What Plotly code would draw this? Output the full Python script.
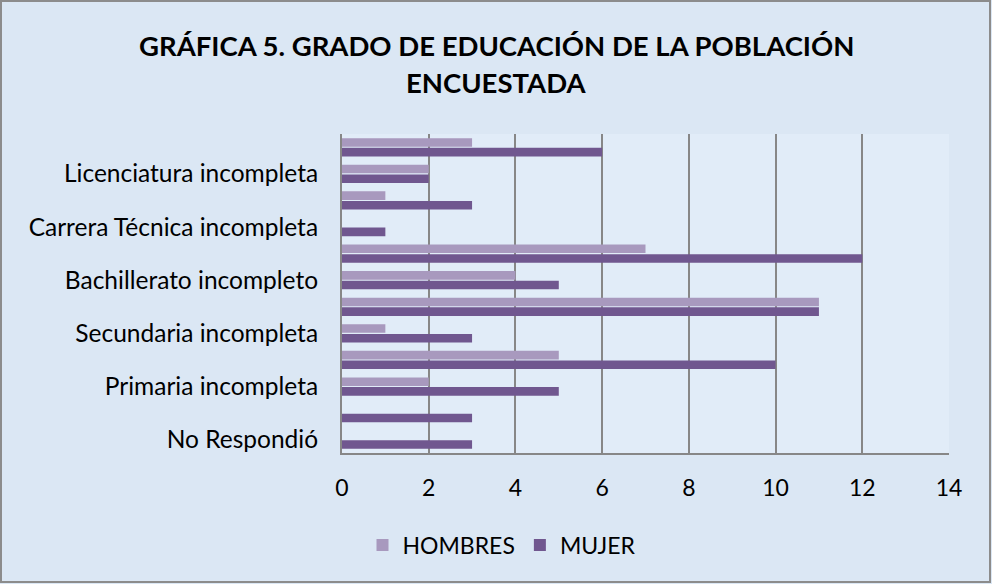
import plotly.graph_objects as go

categories = [
    "No Respondió",
    "Sin estudios",
    "Primaria incompleta",
    "Primaria completa",
    "Secundaria incompleta",
    "Secundaria completa",
    "Bachillerato incompleto",
    "Bachillerato completo",
    "Carrera Técnica incompleta",
    "Carrera Técnica completa",
    "Licenciatura incompleta",
    "Licenciatura completa",
]
shown_labels = [
    "No Respondió",
    "Primaria incompleta",
    "Secundaria incompleta",
    "Bachillerato incompleto",
    "Carrera Técnica incompleta",
    "Licenciatura incompleta",
]
hombres = [0, 0, 2, 5, 1, 11, 4, 7, 0, 1, 2, 3]
mujer = [3, 3, 5, 10, 3, 11, 5, 12, 1, 3, 2, 6]
x_ticks = [0, 2, 4, 6, 8, 10, 12, 14]
title_lines = ["GRÁFICA 5. GRADO DE EDUCACIÓN DE LA POBLACIÓN", "ENCUESTADA"]

FONT = "Lato"
W, H = 992, 584
ML, MR, MT, MB = 342, 43, 134, 131
pw, ph = W - ML - MR, H - MT - MB

fig = go.Figure()
fig.add_trace(go.Bar(y=categories, x=mujer, orientation="h", name="MUJER",
                     marker=dict(color="#70578F", line=dict(width=0)), legendrank=2))
fig.add_trace(go.Bar(y=categories, x=hombres, orientation="h", name="HOMBRES",
                     marker=dict(color="#A899BE", line=dict(width=0)), legendrank=1))

# title lines as paper annotations (centred at x=496 px)
title_y = [45, 83]
annotations = [
    dict(text=f"<b>{t}</b>", xref="paper", yref="paper",
         x=(496 - ML) / pw, y=1 + (MT - yy) / ph, xanchor="center", yanchor="middle",
         showarrow=False, font=dict(family=FONT, size=27.5, color="#000000"))
    for t, yy in zip(title_lines, title_y)
]

fig.update_layout(
    width=W, height=H,
    margin=dict(l=ML, r=MR, t=MT, b=MB),
    paper_bgcolor="#DBE7F4",
    plot_bgcolor="#E1ECF8",
    barmode="group",
    bargap=0.27,
    bargroupgap=0.12,
    font=dict(family=FONT, color="#000000", size=23),
    annotations=annotations,
    xaxis=dict(
        range=[0, 14], tickvals=x_ticks, showgrid=True, gridcolor="#878787", gridwidth=2,
        zeroline=False, showline=True, linecolor="#878787", linewidth=2,
        ticks="", ticklabelstandoff=13, tickfont=dict(size=23),
    ),
    yaxis=dict(
        type="category", categoryorder="array", categoryarray=categories,
        tickvals=shown_labels, ticktext=shown_labels,
        showgrid=False, zeroline=False, showline=True, linecolor="#878787", linewidth=2,
        ticks="", ticklabelstandoff=17, tickfont=dict(size=24.5),
    ),
    legend=dict(
        orientation="h", x=(502 - ML) / pw, xanchor="center",
        y=-(545 - (MT + ph)) / ph, yanchor="middle",
        font=dict(size=23), bgcolor="rgba(0,0,0,0)",
    ),
    showlegend=True,
    shapes=[dict(
        type="rect", xref="paper", yref="paper",
        x0=-(ML - 1) / pw, x1=1 + (MR - 2) / pw,
        y0=-(MB - 2) / ph, y1=1 + (MT - 1) / ph,
        line=dict(color="#8C8C8C", width=2), fillcolor="rgba(0,0,0,0)", layer="below",
    )],
)

fig.write_html("out.html", config={"displayModeBar": False},
               post_script="document.body.style.margin='0';")
